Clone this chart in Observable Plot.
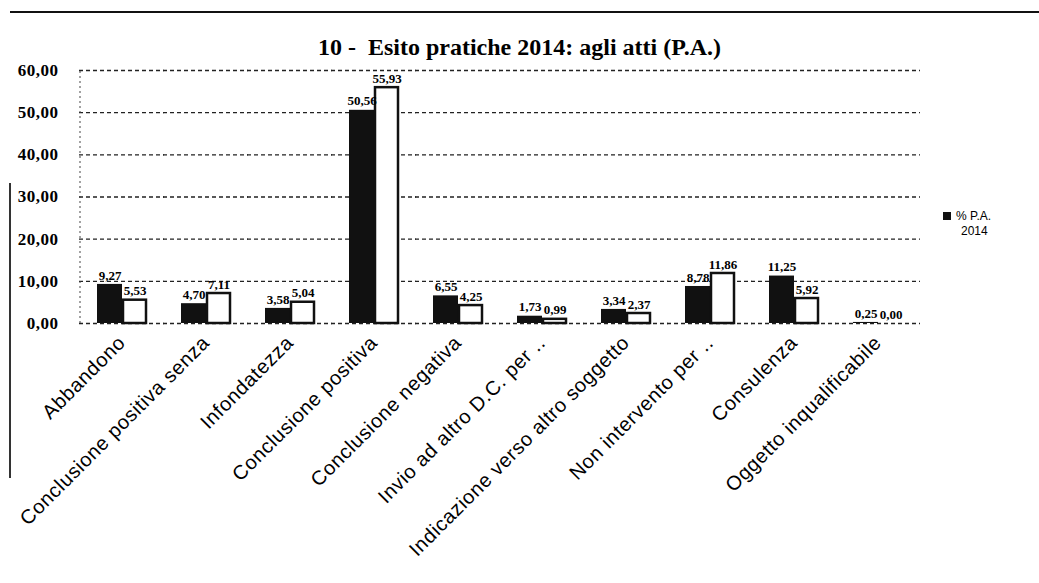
<!DOCTYPE html>
<html><head><meta charset="utf-8">
<script src="https://cdn.jsdelivr.net/npm/d3@7"></script>
<script src="https://cdn.jsdelivr.net/npm/@observablehq/plot@0.6"></script>
<style>
body{margin:0;background:#fff;}
#wrap{position:relative;width:1039px;height:583px;overflow:hidden;background:#fff;}
#chart{position:absolute;left:0;top:0;}
#title{position:absolute;top:34px;left:0;width:1039px;text-align:center;font-family:"Liberation Serif",serif;font-weight:bold;font-size:24px;color:#000;}
#topline{position:absolute;left:10px;right:0;top:11px;height:2px;background:#111;}
#leftline{position:absolute;left:9px;top:183px;width:2px;height:295px;background:#333;}
#legend{position:absolute;left:943px;top:209px;font-family:"Liberation Sans",sans-serif;font-size:12px;color:#000;line-height:15px;}
#legend .sw{display:inline-block;width:8px;height:8px;background:#111;margin-right:5px;vertical-align:0px;}
#legend .l2{padding-left:18px;}
svg g[aria-label^="y-axis"] text{font-family:"Liberation Serif",serif;font-weight:bold;font-size:17px;letter-spacing:0.5px;}
svg g[aria-label^="fx-axis"] text{font-family:"Liberation Sans",sans-serif;font-size:20px;letter-spacing:0.6px;}
</style></head>
<body>
<div id="wrap">
  <div id="topline"></div>
  <div id="leftline"></div>
  <div id="title">10 -&nbsp; Esito pratiche 2014: agli atti (P.A.)</div>
  <div id="chart"></div>
  <div id="legend"><div><span class="sw"></span>% P.A.</div><div class="l2">2014</div></div>
</div>
<script>
const categories = [
  "Abbandono",
  "Conclusione positiva senza",
  "Infondatezza",
  "Conclusione positiva",
  "Conclusione negativa",
  "Invio ad altro D.C. per ..",
  "Indicazione verso altro soggetto",
  "Non intervento per ..",
  "Consulenza",
  "Oggetto inqualificabile"
];
const seriesNames = ["% P.A. 2014", "serie 2"];
const seriesA = [9.27, 4.70, 3.58, 50.56, 6.55, 1.73, 3.34, 8.78, 11.25, 0.25];
const seriesB = [5.53, 7.11, 5.04, 55.93, 4.25, 0.99, 2.37, 11.86, 5.92, 0.00];
const yTicks = [0, 10, 20, 30, 40, 50, 60];

const fmt = v => d3.format(".2f")(v).replace(".", ",");
const rows = [];
categories.forEach((c, i) => {
  rows.push({cat: c, s: seriesNames[0], v: seriesA[i]});
  rows.push({cat: c, s: seriesNames[1], v: seriesB[i]});
});

const chart = Plot.plot({
  width: 1039,
  height: 583,
  marginLeft: 78,
  marginRight: 118,
  marginTop: 70,
  marginBottom: 260,
  style: {background: "transparent", color: "#000"},
  fx: {domain: categories, paddingInner: 0.395, paddingOuter: 0.198, label: null},
  x: {domain: seriesNames, padding: 0, axis: null},
  y: {domain: [0, 60], label: null},
  marks: [
    Plot.ruleY(yTicks, {stroke: "#222", strokeWidth: 1.3, strokeDasharray: "4,3", insetLeft: -17, insetRight: -17}),
    Plot.ruleX([categories[0]], {fx: d => d, x: () => seriesNames[0], y1: 0, y2: 60, dx: -30, stroke: "#444", strokeWidth: 1, strokeDasharray: "2,3"}),
    Plot.axisY(yTicks, {tickFormat: fmt, tickSize: 0, tickPadding: 38, label: null}),
    Plot.axisFx({anchor: "bottom", tickRotate: -45, tickSize: 0, tickPadding: 16, label: null}),
    Plot.barY(rows.filter(d => d.s === seriesNames[0]), {fx: "cat", x: "s", y: "v", fill: "#111"}),
    Plot.barY(rows.filter(d => d.s === seriesNames[1]), {fx: "cat", x: "s", y: "v", fill: "#fff", stroke: "#111", strokeWidth: 2.5, insetLeft: 1, insetRight: 1}),
    Plot.text(rows, {fx: "cat", x: "s", y: "v", text: d => fmt(d.v), dy: -9, fontFamily: "Liberation Serif", fontWeight: "bold", fontSize: 13, fill: "#000"})
  ]
});
document.getElementById("chart").appendChild(chart);
</script>
</body></html>
